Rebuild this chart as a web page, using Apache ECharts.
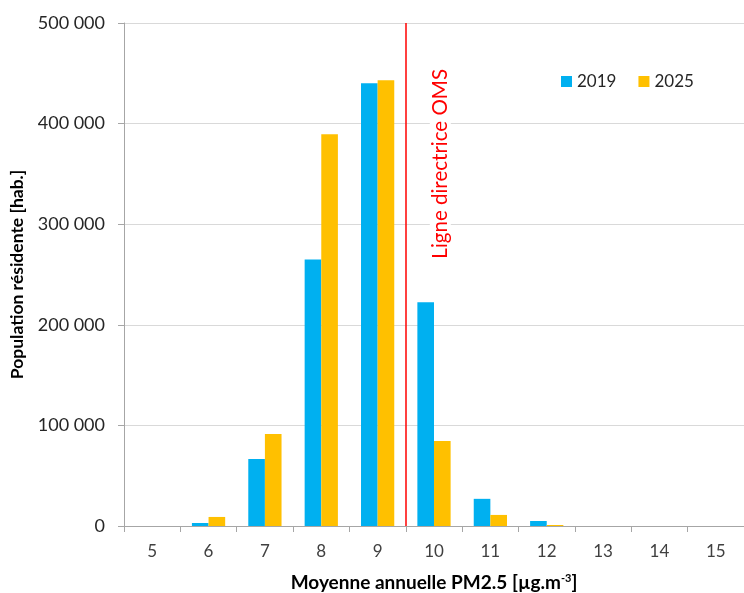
<!DOCTYPE html>
<html>
<head>
<meta charset="utf-8">
<script src="https://cdn.jsdelivr.net/npm/echarts@6/dist/echarts.min.js"></script>
<style>
  html, body { margin: 0; padding: 0; background: #fff; }
  #main { width: 744px; height: 593px; }
</style>
</head>
<body>
<div id="main"></div>
<script>
const categories = ['5', '6', '7', '8', '9', '10', '11', '12', '13', '14', '15']
const pop2019 = [0, 3000, 66500, 265000, 440000, 222500, 27000, 5000, 0, 0, 0]
const pop2025 = [0, 9000, 91500, 389500, 443000, 84500, 11000, 1000, 0, 0, 0]
const guideline = 9.5

const font = 'Lato'

let myChart = echarts.init(document.getElementById('main'))

let option = {
  textStyle: { fontFamily: font },
  animation: false,
  legend: {
    top: 68,
    left: 556,
    itemWidth: 11,
    itemHeight: 11,
    itemGap: 22,
    icon: 'rect',
    textStyle: { fontSize: 17, color: '#262626', fontFamily: font },
    data: ['2019', '2025']
  },
  grid: {
    left: 124,
    right: 0,
    top: 23,
    bottom: 67,
    outerBoundsMode: 'none'
  },
  xAxis: [
    {
      type: 'category',
      data: categories,
      name: 'Moyenne annuelle PM2.5 [µg.m{sup|-3}]',
      nameLocation: 'middle',
      nameGap: 47,
      nameTextStyle: {
        fontSize: 19, fontWeight: 'bold', color: '#000', fontFamily: font,
        rich: { sup: { fontSize: 11, fontWeight: 'bold', verticalAlign: 'top', padding: [0, 0, 9, 0] } }
      },
      axisLine: { lineStyle: { color: '#a6a6a6', width: 1 } },
      axisTick: { show: true, length: 6, alignWithLabel: false, lineStyle: { color: '#a6a6a6' } },
      axisLabel: { fontSize: 17, color: '#404040', margin: 17 }
    },
    {
      type: 'value',
      min: 4.5,
      max: 15.5,
      show: false
    }
  ],
  yAxis: {
    type: 'value',
    min: 0,
    max: 500000,
    interval: 100000,
    name: 'Population résidente [hab.]',
    nameLocation: 'middle',
    nameGap: 98,
    nameTextStyle: { fontSize: 17.5, fontWeight: 'bold', color: '#000', fontFamily: font },
    axisLine: { show: true, lineStyle: { color: '#a6a6a6' } },
    axisTick: { show: true, length: 6, lineStyle: { color: '#a6a6a6' } },
    axisLabel: {
      fontSize: 18,
      color: '#262626',
      margin: 19,
      formatter: v => String(v).replace(/\B(?=(\d{3})+(?!\d))/g, ' ')
    },
    splitLine: { lineStyle: { color: '#d9d9d9' } }
  },
  series: [
    {
      name: '2019',
      type: 'bar',
      data: pop2019,
      itemStyle: { color: '#00b0f0' },
      barGap: '0%',
      barCategoryGap: '41%'
    },
    {
      name: '2025',
      type: 'bar',
      data: pop2025,
      itemStyle: { color: '#ffc000' }
    },
    {
      name: 'OMS',
      type: 'line',
      xAxisIndex: 1,
      data: [],
      markLine: {
        symbol: 'none',
        silent: true,
        lineStyle: { color: '#ff0000', width: 1.5, type: 'solid' },
        label: {
          show: true,
          formatter: 'Ligne directrice OMS',
          position: 'insideEndBottom',
          distance: [40, 24],
          color: '#ff0000',
          fontSize: 20.5,
          fontFamily: font,
          backgroundColor: '#fff',
          padding: [0, 6]
        },
        data: [{ xAxis: guideline }]
      }
    }
  ]
}

myChart.setOption(option)
</script>
</body>
</html>
